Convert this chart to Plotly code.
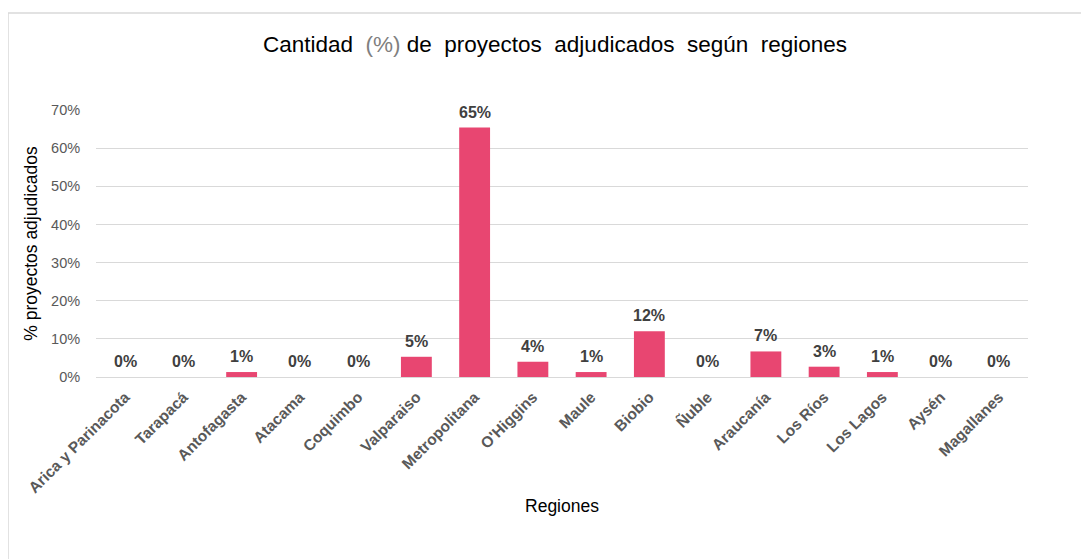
import plotly.graph_objects as go

regiones = ["Arica y Parinacota", "Tarapacá", "Antofagasta", "Atacama", "Coquimbo",
            "Valparaiso", "Metropolitana", "O'Higgins", "Maule", "Biobio", "Ñuble",
            "Araucanía", "Los Ríos", "Los Lagos", "Aysén", "Magallanes"]
porcentaje = [0.0, 0.0, 1.3, 0.0, 0.0, 5.3, 65.4, 4.0, 1.3, 12.0, 0.0, 6.7, 2.7, 1.3, 0.0, 0.0]
etiquetas = [f"{round(v)}%" for v in porcentaje]
y_ticks = [0, 10, 20, 30, 40, 50, 60, 70]

FONT = "Arial, Liberation Sans, sans-serif"

# plot-area geometry (figure px) used to place the outer frame
L, R, T, B = 88, 69, 102, 190
W, H = 1089, 559
PW, PH = W - L - R, H - T - B

fig = go.Figure(go.Bar(
    x=regiones, y=porcentaje,
    marker=dict(color="#E84671", line=dict(width=0)),
    hoverinfo="skip",
))

for reg, val, lab in zip(regiones, porcentaje, etiquetas):
    fig.add_annotation(x=reg, y=val, text=lab, showarrow=False,
                       yanchor="bottom", yshift=5,
                       font=dict(family=FONT, size=16, color="#404040", weight="bold"))

fig.update_layout(
    width=W, height=H,
    margin=dict(l=L, r=R, t=T, b=B),
    paper_bgcolor="white", plot_bgcolor="white",
    bargap=0.47,
    showlegend=False,
    title=dict(
        text="Cantidad&nbsp; <span style='color:#7f7f7f'>(%)</span> de&nbsp; proyectos&nbsp; adjudicados&nbsp; según&nbsp; regiones",
        xref="container", x=(555 - 8) / W, xanchor="center", y=1 - 36 / H, yanchor="middle",
        font=dict(family=FONT, size=22.5, color="#000000"),
    ),
    font=dict(family=FONT),
)

fig.update_xaxes(
    tickangle=-45,
    tickfont=dict(family=FONT, size=15.5, color="#595959", weight="bold"),
    ticklabelstandoff=4,
    showline=True, linecolor="#D9D9D9", linewidth=1,
    ticks="", showgrid=False,
    automargin=False,
    title=dict(text="Regiones", font=dict(family=FONT, size=17.5, color="#000000"), standoff=4),
)

fig.update_yaxes(
    range=[0, 70], tickvals=y_ticks, ticktext=[f"{v}%" for v in y_ticks],
    tickfont=dict(family=FONT, size=14.5, color="#595959"),
    showgrid=True, gridcolor="#D9D9D9", gridwidth=1,
    zeroline=False, showline=False, ticks="outside", ticklen=12, tickcolor="white",
    automargin=False,
    title=dict(text="% proyectos adjudicados", font=dict(family=FONT, size=17.5, color="#000000"), standoff=8),
)

# outer chart frame (top and left edges visible)
x_left, x_right = (0 - L) / PW, (1085 - L) / PW
y_top, y_bot = (H - B - 5) / PH, (H - B - 556) / PH
fig.add_shape(type="line", xref="paper", yref="paper", x0=x_left, x1=x_right, y0=y_top, y1=y_top,
              line=dict(color="#D9D9D9", width=1.5))
fig.add_shape(type="line", xref="paper", yref="paper", x0=x_left, x1=x_left, y0=y_top, y1=y_bot,
              line=dict(color="#D9D9D9", width=1.5))

fig.write_html("out.html")
